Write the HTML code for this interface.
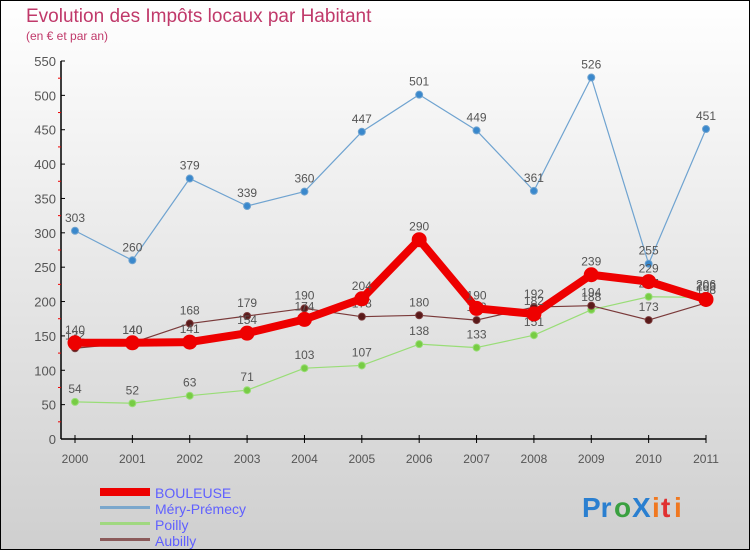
<!DOCTYPE html>
<html><head><meta charset="utf-8"><style>
body{margin:0}
svg{display:block;font-family:"Liberation Sans",sans-serif}
</style></head><body>
<svg id="c" width="750" height="550" viewBox="0 0 750 550">
<defs><linearGradient id="bg" x1="0" y1="0" x2="0" y2="1"><stop offset="0" stop-color="#ffffff"/><stop offset="1" stop-color="#cfcfcf"/></linearGradient></defs>
<rect x="0.5" y="0.5" width="749" height="549" fill="url(#bg)" stroke="#000"/>
<text x="26" y="22" font-size="19" fill="#c0396a">Evolution des Impôts locaux par Habitant</text>
<text x="26" y="40" font-size="12" fill="#c0396a">(en € et par an)</text>
<g id="axes"></g>
<g id="series"></g>
<g>
<rect x="100" y="488" width="50" height="8" fill="#e00"/>
<text x="155" y="498" font-size="14" fill="#6060ff">BOULEUSE</text>
<rect x="100" y="506" width="50" height="3" fill="#7ba7cc"/>
<text x="155" y="514" font-size="14" fill="#6060ff">Méry-Prémecy</text>
<rect x="100" y="522" width="50" height="3" fill="#a0d880"/>
<text x="155" y="530" font-size="14" fill="#6060ff">Poilly</text>
<rect x="100" y="538" width="50" height="3" fill="#8b5a5a"/>
<text x="155" y="546" font-size="14" fill="#6060ff">Aubilly</text>
</g>
<g font-size="28" font-weight="bold">
<text x="582" y="517" fill="#2a7fd0">Pr</text><text x="614" y="517" fill="#3aa040">o</text><text x="632" y="517" fill="#2a7fd0">X</text><text x="652" y="517" fill="#f07820">i</text><text x="661" y="517" fill="#e03030">t</text><text x="674" y="517" fill="#f07820">i</text>
</g>
</svg>
<script>
const years=["2000","2001","2002","2003","2004","2005","2006","2007","2008","2009","2010","2011"];
const yTicks=[0,50,100,150,200,250,300,350,400,450,500,550];
const bouleuse=[140,140,141,154,174,204,290,190,182,239,229,203];
const mery=[303,260,379,339,360,447,501,449,361,526,255,451];
const poilly=[54,52,63,71,103,107,138,133,151,188,207,206];
const aubilly=[132,140,168,179,190,178,180,173,192,194,173,198];

const NS="http://www.w3.org/2000/svg";
const x=i=>75+i*(706-75)/11;
const y=v=>439-v*(439-61)/550;
function mk(tag,attrs,parent){const e=document.createElementNS(NS,tag);for(const k in attrs)e.setAttribute(k,attrs[k]);parent.appendChild(e);return e;}
const ax=document.getElementById('axes');
let l=mk('line',{x1:61,y1:61,x2:61,y2:439,stroke:'#000','stroke-width':1.5},ax);


l=mk('line',{x1:61,y1:439,x2:706,y2:439,stroke:'#000','stroke-width':1.5},ax);


yTicks.forEach((t,i)=>{
  mk('line',{x1:61,y1:y(t),x2:65,y2:y(t),stroke:'#000'},ax);
  if(i<yTicks.length-1) mk('line',{x1:58,y1:y(t+25),x2:61,y2:y(t+25),stroke:'#e00'},ax);
  const tx=mk('text',{x:56,y:y(t)+5,'font-size':13,fill:'#555','text-anchor':'end'},ax);
  tx.textContent=t;
  
  
});
years.forEach((yr,i)=>{
  mk('line',{x1:x(i),y1:435,x2:x(i),y2:443,stroke:'#000'},ax);
  const tx=mk('text',{x:x(i),y:463,'font-size':12,fill:'#555','text-anchor':'middle'},ax);
  tx.textContent=yr;
  
  
});
const sg=document.getElementById('series');
function draw(data,color,w,r,dot,name){
  const g=mk('g',{},sg);
  
  
  const p=mk('polyline',{points:data.map((v,i)=>x(i)+','+y(v)).join(' '),fill:'none',stroke:color,'stroke-width':w,'stroke-linejoin':'round'},g);
  
  
  data.forEach((v,i)=>{
    const c=mk('circle',{cx:x(i),cy:y(v),r:r,fill:dot,stroke:color,'stroke-width':1},g);
    
    
    const t=mk('text',{x:x(i),y:y(v)-9,'font-size':12,fill:'#555','text-anchor':'middle'},g);
    t.textContent=v;
    
    
  });
}
draw(mery,'#6fa3d0',1.2,3.5,'#3a88cc','mery-premecy');
draw(poilly,'#99dd77',1.2,3.5,'#77cc44','poilly');
draw(aubilly,'#7a3a3a',1.2,3.5,'#5a1a1a','aubilly');
draw(bouleuse,'#ee0000',8,7,'#ee0000','bouleuse');
</script>
</body></html>
